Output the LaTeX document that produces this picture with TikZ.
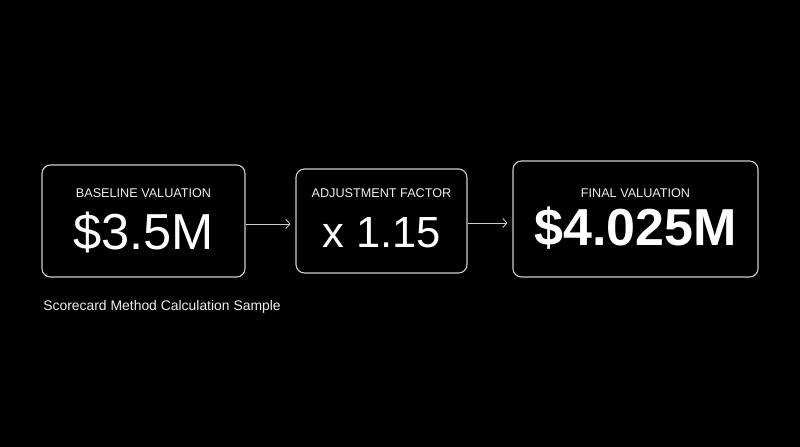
\documentclass[tikz,border=0pt]{standalone}
\usepackage{fontspec}
\setmainfont{Liberation Sans}
\usetikzlibrary{arrows.meta}
\definecolor{boxline}{RGB}{205,205,205}
\definecolor{softwhite}{RGB}{238,238,238}

\begin{document}
\begin{tikzpicture}
  [x=0.7113pt,y=-0.7113pt]
      \tikzstyle{box_style} = [draw=boxline, line width=0.8pt, rounded corners=6pt, inner sep=0pt]
      \tikzstyle{label_style} = [text=softwhite, inner sep=0pt, anchor=base, font=\fontsize{9}{10}\selectfont]
      \tikzstyle{value_style} = [text=white, inner sep=0pt, anchor=base, font=\fontsize{36}{40}\selectfont]
      \tikzstyle{arrow_style} = [draw=boxline, line width=0.6pt, -{Straight Barb[length=3pt,width=6.5pt]}, shorten >=3.5pt]
  \fill[black] (0,0) rectangle (800,447);
  \node[box_style, minimum width=144.4pt, minimum height=79.7pt] (base_box) at (143.5,221) {};
  \node[box_style, minimum width=121.6pt, minimum height=74pt] (adj_box) at (381.5,221) {};
  \node[box_style, minimum width=174.3pt, minimum height=82.5pt] (final_box) at (635.5,219) {};
  \node[label_style] (base_label) at (143.5,198) {BASELINE VALUATION};
  \node[label_style] (adj_label) at (381.5,198) {ADJUSTMENT FACTOR};
  \node[label_style] (final_label) at (635.5,198) {FINAL VALUATION};
  \node[value_style] (base_value) at (143.5,250) {\$3.5M};
  \node[value_style, font=\fontsize{31}{36}\selectfont] (adj_value) at (381.5,248) {x 1.15};
  \node[value_style, font=\fontsize{37}{40}\selectfont\bfseries] (final_value) at (635.5,246) {\$4.025M};
  \node[label_style, anchor=base west, font=\fontsize{9.9}{11}\selectfont] (caption) at (43,311) {Scorecard Method Calculation Sample};
  \draw[arrow_style] ([yshift=-2.1pt]base_box.east) -- ([yshift=-2.1pt]adj_box.west);
  \draw[arrow_style] ([yshift=-1.4pt]adj_box.east) -- ([yshift=-1.4pt]adj_box.east -| final_box.west);
\end{tikzpicture}
\end{document}
